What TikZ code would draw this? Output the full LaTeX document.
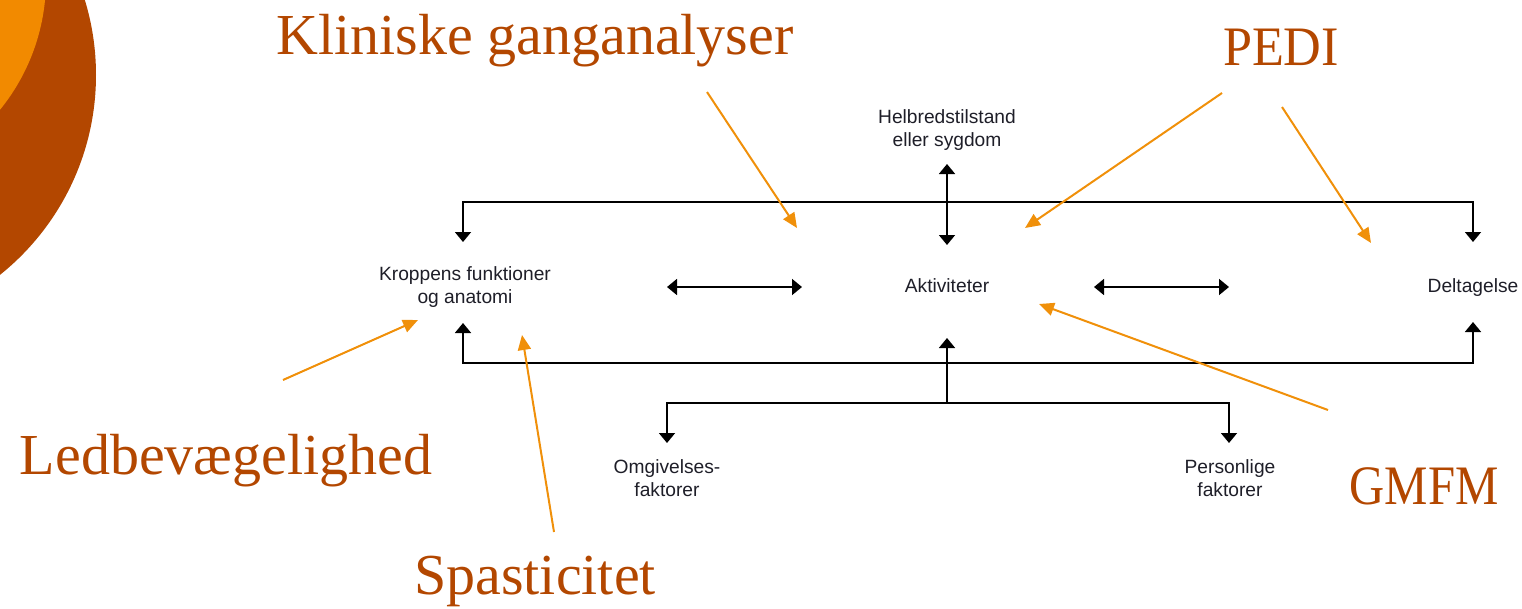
\documentclass[tikz,border=0pt]{standalone}
\usepackage{fontspec}
\setmainfont{Liberation Serif}
\newfontfamily\diagsans{Liberation Sans}
\usetikzlibrary{arrows.meta}
\definecolor{darkor}{HTML}{B34700}
\definecolor{lightor}{HTML}{F28A00}
\definecolor{arrowor}{HTML}{F0900A}
\definecolor{txtblk}{HTML}{1E1E28}
\tikzset{
  bigtxt/.style={text=darkor, font=\fontsize{58}{62}\selectfont, inner sep=0pt, anchor=base},
  smalltxt/.style={text=txtblk, font=\diagsans\fontsize{19.2}{23.5}\selectfont, inner sep=0pt, align=center},
  blk/.style={draw=black, line width=1.7pt, arrows={Triangle[width=16pt,length=10pt]-Triangle[width=16pt,length=10pt]}},
  blkone/.style={draw=black, line width=1.7pt, arrows={-Triangle[width=16pt,length=10pt]}},
  orarrow/.style={draw=arrowor, line width=2pt, arrows={-Triangle[width=13pt,length=15pt]}}
}
\begin{document}
\begin{tikzpicture}[x=1pt,y=-1pt]
\useasboundingbox (0,0) rectangle (1522,608);
\begin{scope}
  \clip (0,0) rectangle (1522,608);
  \fill[darkor] (-160,75) circle (256);
  \fill[lightor] (-160,-20) circle (206);
\end{scope}

% black diagram texts
\node[smalltxt] (helb) at (947,130) {Helbredstilstand\\eller sygdom};
\node[smalltxt] (krop) at (465,287) {Kroppens funktioner\\og anatomi};
\node[smalltxt, anchor=base] (akt) at (947,292) {Aktiviteter};
\node[smalltxt, anchor=base] (delt) at (1473,292) {Deltagelse};
\node[smalltxt] (omg) at (667,478) {Omgivelses-\\faktorer};
\node[smalltxt] (pers) at (1230,478) {Personlige\\faktorer};

% coordinates for connectors
\coordinate (kroTop) at (463,242);
\coordinate (kroBot) at (463,323);
\coordinate (delTop) at (1473,242);
\coordinate (delBot) at (1473,322);
\coordinate (topL) at (463,202);
\coordinate (topR) at (1473,202);
\coordinate (botL) at (463,363);
\coordinate (botR) at (1473,363);
\coordinate (helbTip) at (947,164);
\coordinate (aktTop) at (947,245);
\coordinate (aktBot) at (947,338);
\coordinate (brMid) at (947,403);
\coordinate (brL) at (667,403);
\coordinate (brR) at (1229,403);
\coordinate (omgTop) at (667,443);
\coordinate (persTop) at (1229,443);
\coordinate (h1a) at (667,287);
\coordinate (h1b) at (802,287);
\coordinate (h2a) at (1094,287);
\coordinate (h2b) at (1229,287);

\draw[blk] (kroTop) -- (topL) -- (topR) -- (delTop);
\draw[blk] (helbTip) -- (aktTop);
\draw[blk] (kroBot) -- (botL) -- (botR) -- (delBot);
\draw[blkone] (brMid) -- (aktBot);
\draw[blk] (omgTop) -- (brL) -- (brR) -- (persTop);
\draw[blk] (h1a) -- (h1b);
\draw[blk] (h2a) -- (h2b);

% orange labels
\node[bigtxt] (klin) at (535,54) {Kliniske ganganalyser};
\node[bigtxt] (pedi) at (1281,65) {\scalebox{0.9}[0.96]{PEDI}};
\node[bigtxt] (led) at (226,474) {Ledbevægelighed};
\node[bigtxt] (spas) at (535,594) {Spasticitet};
\node[bigtxt] (gmfm) at (1424,504) {\scalebox{0.84}[0.96]{GMFM}};

% orange arrows
\coordinate (klinT) at (707,92);   \coordinate (klinH) at (797,228);
\coordinate (pediT1) at (1222,93); \coordinate (pediH1) at (1025,228);
\coordinate (pediT2) at (1282,107); \coordinate (pediH2) at (1371,243);
\coordinate (ledT) at (283,380);   \coordinate (ledH) at (418,320);
\coordinate (spasT) at (554,532);  \coordinate (spasH) at (522,335);
\coordinate (gmfmT) at (1328,410); \coordinate (gmfmH) at (1039,304);

\draw[orarrow] (klinT) -- (klinH);
\draw[orarrow] (pediT1) -- (pediH1);
\draw[orarrow] (pediT2) -- (pediH2);
\draw[orarrow] (ledT) -- (ledH);
\draw[orarrow] (spasT) -- (spasH);
\draw[orarrow] (gmfmT) -- (gmfmH);
\end{tikzpicture}
\end{document}
